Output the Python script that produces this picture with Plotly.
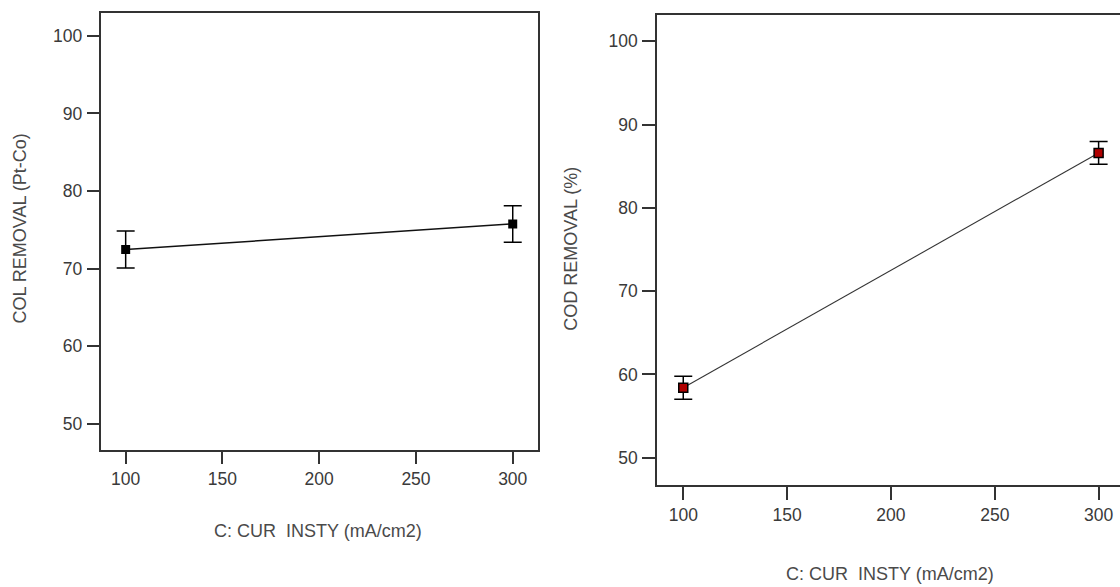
import plotly.graph_objects as go

W, H = 1120, 587

# ---- data ----
current = [100, 300]
col_removal = [72.45, 75.75]
col_err = [2.4, 2.35]
cod_removal = [58.4, 86.6]
cod_err = [1.37, 1.37]

x_ticks = [100, 150, 200, 250, 300]
y_ticks = [50, 60, 70, 80, 90, 100]

x_title = "C: CUR\u00a0 INSTY (mA/cm2)"
y_title_left = "COL REMOVAL (Pt-Co)"
y_title_right = "COD REMOVAL (%)"

FONT = "Liberation Sans, Arial, sans-serif"
TICK_COLOR = "#3a3a3a"
TITLE_COLOR = "#4a4a4a"

fig = go.Figure()

fig.add_trace(go.Scatter(
    x=current, y=col_removal, mode="lines+markers",
    line=dict(color="#111111", width=1.5),
    marker=dict(symbol="square", size=9, color="black"),
    error_y=dict(type="data", array=col_err, visible=True, color="black",
                 thickness=1.5, width=9),
    xaxis="x", yaxis="y", showlegend=False,
))

fig.add_trace(go.Scatter(
    x=current, y=cod_removal, mode="lines+markers",
    line=dict(color="#333333", width=1.1),
    marker=dict(symbol="square", size=9, color="#b00000",
                line=dict(color="black", width=1.5)),
    error_y=dict(type="data", array=cod_err, visible=True, color="black",
                 thickness=1.5, width=9),
    xaxis="x2", yaxis="y2", showlegend=False,
))

def px_x(p):
    return p / W

def px_y(p):
    return (H - p) / H

axis_common = dict(
    showgrid=False, zeroline=False, showline=True, linecolor="#333333",
    linewidth=2, ticks="outside", tickcolor="#333333", tickwidth=1.5,
    tickfont=dict(family=FONT, size=17.5, color=TICK_COLOR),
)

fig.update_layout(
    width=W, height=H, autosize=False,
    margin=dict(l=0, r=0, t=0, b=0),
    paper_bgcolor="white", plot_bgcolor="white",
    xaxis=dict(domain=[px_x(100.7), px_x(537.7)], range=[87.1, 312.9],
               tickvals=x_ticks, ticklen=12, mirror=True, anchor="y",
               ticklabelstandoff=0, **axis_common),
    yaxis=dict(domain=[px_y(449.5), px_y(12.7)], range=[46.65, 103.0],
               tickvals=y_ticks, ticklen=12, mirror=True, anchor="x",
               ticklabelstandoff=1, **axis_common),
    xaxis2=dict(domain=[px_x(657.3), 1.0], range=[87.5, 310.3],
                tickvals=x_ticks, ticklen=13, mirror=True, anchor="y2",
                ticklabelstandoff=0, **axis_common),
    yaxis2=dict(domain=[px_y(485), px_y(15)], range=[46.72, 103.16],
                tickvals=y_ticks, ticklen=13, mirror=False, anchor="x2",
                ticklabelstandoff=1, **axis_common),
)

ann_font = dict(family=FONT, size=18, color=TITLE_COLOR)
fig.add_annotation(text=y_title_left, xref="paper", yref="paper",
                   x=px_x(19.5), y=px_y(229), textangle=-90, showarrow=False,
                   xanchor="center", yanchor="middle", font=ann_font)
fig.add_annotation(text=x_title, xref="paper", yref="paper",
                   x=px_x(318), y=px_y(531), showarrow=False,
                   xanchor="center", yanchor="middle", font=ann_font)
fig.add_annotation(text=y_title_right, xref="paper", yref="paper",
                   x=px_x(570.7), y=px_y(249), textangle=-90, showarrow=False,
                   xanchor="center", yanchor="middle", font=ann_font)
fig.add_annotation(text=x_title, xref="paper", yref="paper",
                   x=px_x(890), y=px_y(574), showarrow=False,
                   xanchor="center", yanchor="middle", font=ann_font)

fig.write_html("out.html")
